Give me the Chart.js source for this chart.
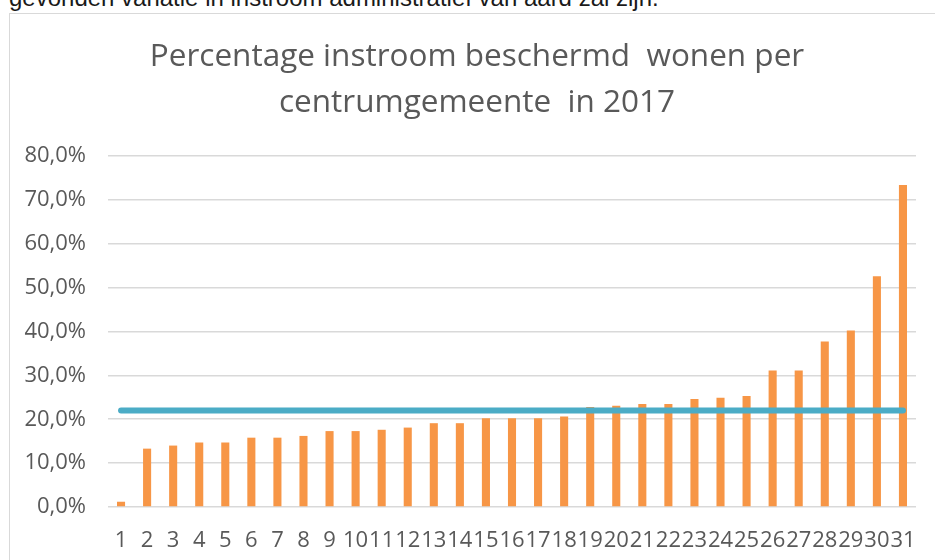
<!DOCTYPE html>
<html>
<head>
<meta charset="utf-8">
<script src="https://cdn.jsdelivr.net/npm/chart.js@4"></script>
<style>
  body { margin: 0; width: 935px; height: 560px; overflow: hidden; background: #fff; position: relative; }
  .intro { position: absolute; left: 9px; top: -14px; font: 24px/24px "Liberation Sans", Arial, sans-serif; color: #1a1a1a; white-space: nowrap; }
  .frame { position: absolute; left: 9px; top: 13px; width: 926px; height: 547px; border-top: 1px solid #d9d9d9; border-left: 1px solid #d9d9d9; }
  .frame canvas { position: absolute; left: 0; top: 0; }
</style>
</head>
<body>
<div class="intro">gevonden variatie in instroom administratief van aard zal zijn.</div>
<div class="frame">
  <canvas id="instroom" width="925" height="546"></canvas>
</div>
<script>
// categorieën (centrumgemeenten) en percentages
const gemeenten = ['1', '2', '3', '4', '5', '6', '7', '8', '9', '10', '11', '12', '13', '14', '15', '16',
  '17', '18', '19', '20', '21', '22', '23', '24', '25', '26', '27', '28', '29', '30', '31'];
const percentages = [1.2, 13.3, 14.0, 14.7, 14.7, 15.8, 15.8, 16.2, 17.3, 17.3, 17.6, 18.1, 19.1, 19.1, 20.2, 20.2,
  20.2, 20.6, 22.8, 23.1, 23.5, 23.5, 24.6, 24.9, 25.3, 31.1, 31.1, 37.7, 40.2, 52.6, 73.4];
const gemiddelde = 22.0;
const yTicks = [0, 10, 20, 30, 40, 50, 60, 70, 80];

const tekstKleur = '#595959';

// titel een stukje naar rechts, zoals in Excel
const titelVerschuiven = {
  id: 'titelVerschuiven',
  afterLayout: (chart) => {
    if (chart.titleBlock) {
      chart.titleBlock.left += 14;
      chart.titleBlock.right += 14;
    }
  },
};

const ctx = document.getElementById('instroom').getContext('2d');

new Chart(ctx, {
  data: {
    labels: gemeenten,
    datasets: [
      {
        type: 'line',
        data: gemeenten.map(() => gemiddelde),
        borderColor: '#4BACC6',
        borderWidth: 6,
        borderCapStyle: 'round',
        pointRadius: 0,
        order: 0,
      },
      {
        type: 'bar',
        data: percentages,
        backgroundColor: '#F79646',
        barPercentage: 0.31,
        categoryPercentage: 1,
        order: 1,
      },
    ],
  },
  options: {
    responsive: false,
    animation: false,
    layout: { padding: { left: 0, right: 19, top: 0, bottom: 0 } },
    plugins: {
      legend: { display: false },
      tooltip: { enabled: false },
      title: {
        display: true,
        text: ['Percentage instroom beschermd  wonen per', 'centrumgemeente  in 2017'],
        color: tekstKleur,
        font: { family: 'Open Sans', size: 31.5, weight: 'normal', lineHeight: 1.46 },
        padding: { top: 20, bottom: 30 },
      },
    },
    scales: {
      x: {
        grid: { display: false },
        border: { display: false },
        ticks: {
          color: tekstKleur,
          font: { family: 'Open Sans', size: 22 },
          autoSkip: false,
          maxRotation: 0,
          padding: 13,
        },
        afterFit: (scale) => { scale.height = 53; },
      },
      y: {
        min: 0,
        max: 80,
        afterBuildTicks: (scale) => { scale.ticks = yTicks.map(v => ({ value: v })); },
        grid: { color: '#d9d9d9', lineWidth: 1.5, drawTicks: false },
        border: { display: false },
        ticks: {
          color: tekstKleur,
          font: { family: 'Open Sans', size: 22 },
          padding: 22,
          callback: (v) => v.toFixed(1).replace('.', ',') + '%',
        },
        afterFit: (scale) => { scale.width = 98; },
      },
    },
  },
  plugins: [titelVerschuiven],
});
</script>
</body>
</html>
